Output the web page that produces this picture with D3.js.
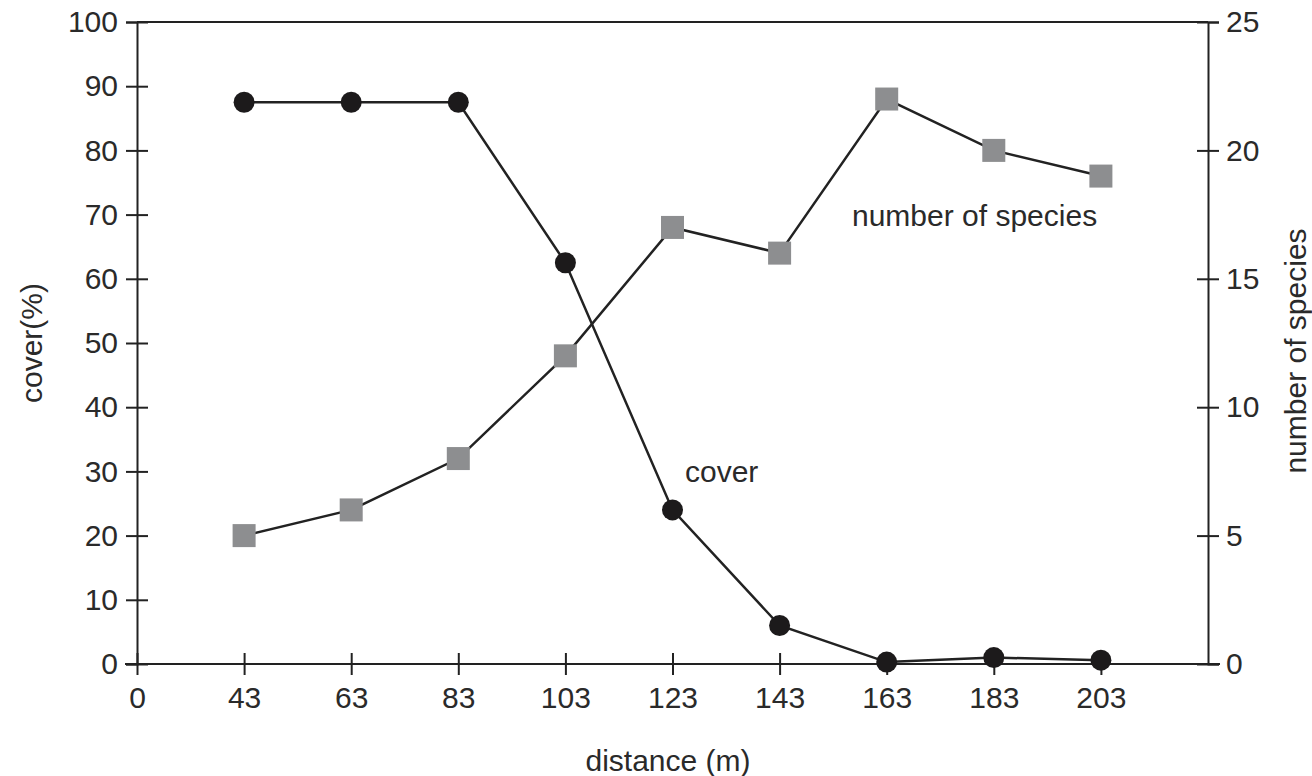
<!DOCTYPE html>
<html>
<head>
<meta charset="utf-8">
<script src="https://cdn.jsdelivr.net/npm/d3@7"></script>
<style>
    body { margin: 0; background: #fff; }
    text { font-family: "Liberation Sans", Arial, Helvetica, sans-serif; fill: #2a2a2a; }
</style>
</head>
<body>
<div id="chart"></div>
<script>
// categorías del eje x (la última posición queda vacía, como en el original)
const distances = ['0', '43', '63', '83', '103', '123', '143', '163', '183', '203', '223'];
const pointDistances = ['43', '63', '83', '103', '123', '143', '163', '183', '203'];
const cover = [87.5, 87.5, 87.5, 62.5, 24, 6, 0.3, 1, 0.6];
const species = [5, 6, 8, 12, 17, 16, 22, 20, 19];
const leftTicks = [0, 10, 20, 30, 40, 50, 60, 70, 80, 90, 100];
const rightTicks = [0, 5, 10, 15, 20, 25];

const W = 1312, H = 776;
const margin = { top: 22, right: 104, bottom: 112, left: 137 };
const fontSize = 30;
const lineCol = '#222';

const svg = d3.select('#chart').append('svg')
    .attr('width', W)
    .attr('height', H);

const x = d3.scalePoint()
    .domain(distances)
    .range([margin.left, W - margin.right]);
const yL = d3.scaleLinear().domain([0, 100]).range([H - margin.bottom, margin.top]);
const yR = d3.scaleLinear().domain([0, 25]).range([H - margin.bottom, margin.top]);

// marco superior
svg.append('line')
    .attr('x1', margin.left).attr('x2', W - margin.right)
    .attr('y1', margin.top).attr('y2', margin.top)
    .attr('stroke', lineCol).attr('stroke-width', 2);

// eje izquierdo
const gL = svg.append('g')
    .attr('transform', `translate(${margin.left},0)`)
    .call(d3.axisLeft(yL).tickValues(leftTicks).tickSize(11).tickPadding(8));
gL.selectAll('.tick line').attr('x2', -11).attr('x1', 11);

// eje derecho
const gR = svg.append('g')
    .attr('transform', `translate(${W - margin.right},0)`)
    .call(d3.axisRight(yR).tickValues(rightTicks).tickSize(11).tickPadding(7));
gR.selectAll('.tick line').attr('x1', -11).attr('x2', 11);

// eje x
const gX = svg.append('g')
    .attr('transform', `translate(0,${H - margin.bottom})`)
    .call(d3.axisBottom(x).tickValues(distances.slice(0, -1)).tickSize(11).tickPadding(12));
gX.selectAll('.tick line').attr('y1', -11).attr('y2', 11);
gX.select('.domain').attr('d', `M${margin.left - 12},0H${W - margin.right + 12}`);

[gL, gR, gX].forEach(g => {
    g.select('.domain').attr('stroke', lineCol).attr('stroke-width', 2);
    g.selectAll('.tick line').attr('stroke', lineCol).attr('stroke-width', 2);
    g.selectAll('.tick text')
        .attr('font-size', fontSize)
        .attr('font-family', '"Liberation Sans", Arial, sans-serif')
        .attr('fill', '#2a2a2a');
});

// series
const speciesRows = pointDistances.map((d, i) => ({ d, v: species[i] }));
const coverRows = pointDistances.map((d, i) => ({ d, v: cover[i] }));

svg.append('path')
    .datum(speciesRows)
    .attr('fill', 'none')
    .attr('stroke', lineCol)
    .attr('stroke-width', 2.5)
    .attr('d', d3.line().x(r => x(r.d)).y(r => yR(r.v)));

svg.append('path')
    .datum(coverRows)
    .attr('fill', 'none')
    .attr('stroke', lineCol)
    .attr('stroke-width', 2.5)
    .attr('d', d3.line().x(r => x(r.d)).y(r => yL(r.v)));

const sq = 23;
svg.selectAll('rect.sp')
    .data(speciesRows)
    .enter().append('rect')
    .attr('class', 'sp')
    .attr('x', r => x(r.d) - sq / 2)
    .attr('y', r => yR(r.v) - sq / 2)
    .attr('width', sq)
    .attr('height', sq)
    .attr('fill', '#8d8e90');

svg.selectAll('circle.cv')
    .data(coverRows)
    .enter().append('circle')
    .attr('class', 'cv')
    .attr('cx', r => x(r.d))
    .attr('cy', r => yL(r.v))
    .attr('r', 10.5)
    .attr('fill', '#1c1a1b');

// etiquetas de las series
svg.append('text')
    .attr('x', 852).attr('y', 226)
    .attr('font-size', fontSize)
    .text('number of species');
svg.append('text')
    .attr('x', 685).attr('y', 482)
    .attr('font-size', fontSize)
    .text('cover');

// títulos de ejes
svg.append('text')
    .attr('transform', `translate(42,${(margin.top + H - margin.bottom) / 2}) rotate(-90)`)
    .attr('text-anchor', 'middle')
    .attr('font-size', fontSize)
    .text('cover(%)');
svg.append('text')
    .attr('transform', `translate(1306,${(margin.top + H - margin.bottom) / 2 + 8}) rotate(-90)`)
    .attr('text-anchor', 'middle')
    .attr('font-size', fontSize)
    .text('number of species');
svg.append('text')
    .attr('x', 668).attr('y', 771)
    .attr('text-anchor', 'middle')
    .attr('font-size', fontSize)
    .text('distance (m)');
</script>
</body>
</html>
